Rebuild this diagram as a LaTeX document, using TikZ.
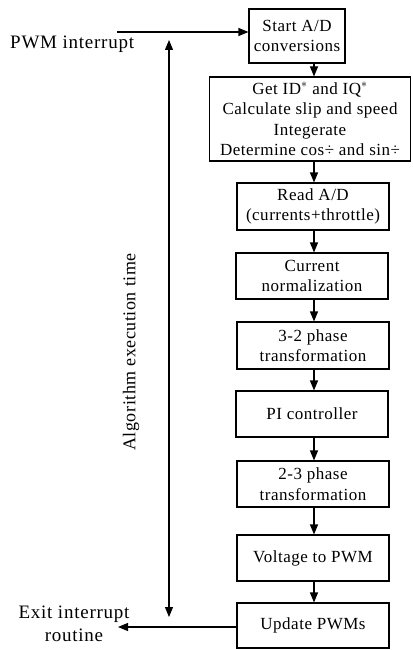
\documentclass[tikz,border=0pt]{standalone}
\usepackage{fontspec}
\setmainfont{Liberation Serif}
\newfontfamily\spaced[LetterSpace=3]{Liberation Serif}
\newfontfamily\wider[LetterSpace=4]{Liberation Serif}
\usetikzlibrary{arrows.meta}
\begin{document}
\begin{tikzpicture}[x=1pt,y=-1pt,
  box/.style={draw,line width=1.1pt,inner sep=0pt,align=center,font=\spaced\fontsize{17}{20.5}\selectfont},
  lbl/.style={inner sep=0pt,align=center,font=\wider\fontsize{19}{23}\selectfont},
  rlbl/.style={inner sep=0pt,align=center,font=\spaced\fontsize{18}{22}\selectfont},
  arr/.style={line width=1.1pt,-{Triangle[length=10pt,width=8pt]}},
  darr/.style={line width=1.1pt,{Triangle[length=10pt,width=8pt]}-{Triangle[length=10pt,width=8pt]}}]
\useasboundingbox (0,0) rectangle (412,650);
\node[box,minimum width=96,minimum height=54] (b1) at (297,36) {Start A/D\\conversions};
\node[box,minimum width=201,minimum height=84] (b2) at (310,119) {Get ID$^{*}$ and IQ$^{*}$\\Calculate slip and speed\\Integerate\\Determine cos÷ and sin÷};
\node[box,minimum width=152,minimum height=47] (b3) at (313,206.5) {Read A/D\\(currents+throttle)};
\node[box,minimum width=152,minimum height=46] (b4) at (312,276) {Current\\normalization};
\node[box,minimum width=152,minimum height=47] (b5) at (313,345.5) {3-2 phase\\transformation};
\node[box,minimum width=152,minimum height=46] (b6) at (312,414) {PI controller};
\node[box,minimum width=152,minimum height=46] (b7) at (313,484) {2-3 phase\\transformation};
\node[box,minimum width=152,minimum height=46] (b8) at (313,558) {Voltage to PWM};
\node[box,minimum width=152,minimum height=45] (b9) at (313,625.5) {Update PWMs};
\coordinate (col) at (314,0);
\foreach \a/\b in {b1/b2,b2/b3,b3/b4,b4/b5,b5/b6,b6/b7,b7/b8,b8/b9}
  \draw[arr] (\a.south -| col) -- (\b.north -| col);
\node[lbl,anchor=west] (pwm) at (10,44) {PWM interrupt};
\coordinate (pwmstart) at (117,32);
\draw[arr] (pwmstart) -- (pwmstart -| b1.west);
\node[lbl] (exit) at (74,624) {Exit interrupt\\routine};
\coordinate (exitend) at (118,627);
\draw[arr] (exitend -| b9.west) -- (exitend);
\coordinate (ttop) at (169,40);
\coordinate (tbot) at (169,617);
\draw[darr] (ttop) -- (tbot);
\node[rlbl,rotate=90] (alg) at (131,352) {Algorithm execution time};
\end{tikzpicture}
\end{document}
